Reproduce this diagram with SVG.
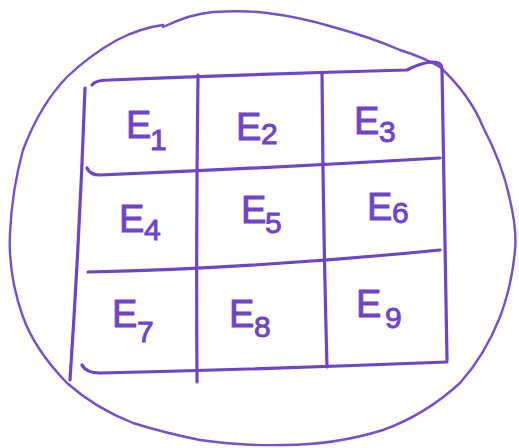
<svg xmlns="http://www.w3.org/2000/svg" width="519" height="448" viewBox="0 0 519 448">
<style>
.ln{fill:none;stroke:#6f44c8;stroke-width:3.2;stroke-linecap:round;stroke-linejoin:round}
.outer{fill:none;stroke:#7550cc;stroke-width:2.4;stroke-linecap:round}
.e{font-family:"Liberation Sans","DejaVu Sans",sans-serif;font-size:38px;fill:#6f44c8;stroke:#6f44c8;stroke-width:0.9}
.s{font-family:"Liberation Sans","DejaVu Sans",sans-serif;font-size:30px;fill:#6f44c8;stroke:#6f44c8;stroke-width:0.9}
</style>
<rect width="519" height="448" fill="#ffffff"/>
<g id="boundary">
<path class="outer" d="M163,27 Q190,14 213,12 Q245,10 267,13 Q300,17 333,27 Q370,37 400,50 Q425,58 440,67 Q470,95 483,127 Q503,165 510,200 Q517,230 515,250 Q512,285 500,317 Q485,355 460,383 Q425,415 383,430 Q335,445 283,445 Q240,446 200,440 Q165,433 133,423 Q95,408 67,383 Q35,350 23,317 Q8,275 10,233 Q12,190 23,150 Q40,105 67,77 Q90,55 117,40 Q140,28 163,25"/>
</g>
<g id="connectors">
<path class="ln" d="M85,88 Q80,230 70,380"/>
<path class="ln" d="M92,85 Q95,80 110,80 Q260,74 407,70 Q420,63 432,62 Q443,62 442,70 Q444,210 447,360"/>
<path class="ln" d="M198,75 Q196,230 197,382"/>
<path class="ln" d="M322,73 Q323,220 327,367"/>
<path class="ln" d="M87,168 Q90,175 100,175 Q270,168 440,158"/>
<path class="ln" d="M88,272 Q260,268 440,250"/>
<path class="ln" d="M82,365 Q86,373 100,373 Q270,369 447,362"/>
</g>
<g id="E1"><text class="e" x="126" y="138">E</text><text class="s" x="150" y="150">1</text></g>
<g id="E2"><text class="e" x="236" y="140">E</text><text class="s" x="261" y="144">2</text></g>
<g id="E3"><text class="e" x="354" y="134">E</text><text class="s" x="379" y="142">3</text></g>
<g id="E4"><text class="e" x="119" y="232">E</text><text class="s" x="144" y="240">4</text></g>
<g id="E5"><text class="e" x="241" y="223">E</text><text class="s" x="265" y="233">5</text></g>
<g id="E6"><text class="e" x="367" y="220">E</text><text class="s" x="392" y="223">6</text></g>
<g id="E7"><text class="e" x="112" y="327">E</text><text class="s" x="137" y="342">7</text></g>
<g id="E8"><text class="e" x="229" y="327">E</text><text class="s" x="254" y="337">8</text></g>
<g id="E9"><text class="e" x="356" y="317">E</text><text class="s" x="385" y="328">9</text></g>
</svg>
